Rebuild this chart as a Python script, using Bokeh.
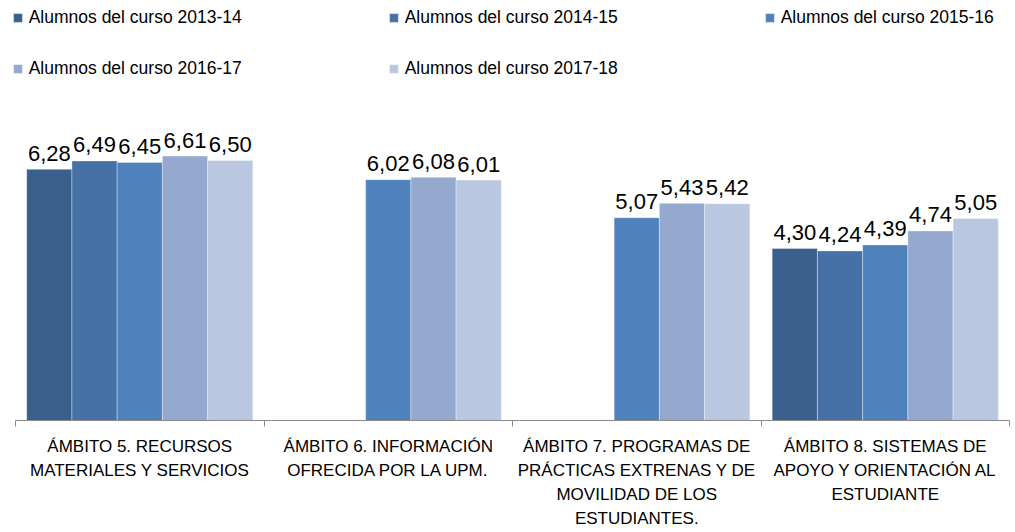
from bokeh.plotting import figure
from bokeh.models import (ColumnDataSource, Range1d, LinearAxis,
                          FixedTicker, Legend, LegendItem)
from bokeh.transform import dodge
from bokeh.core.properties import value
from bokeh.embed import file_html
from bokeh.resources import INLINE

categories = [
    "ÁMBITO 5. RECURSOS\nMATERIALES Y SERVICIOS",
    "ÁMBITO 6. INFORMACIÓN\nOFRECIDA POR LA UPM.",
    "ÁMBITO 7. PROGRAMAS DE\nPRÁCTICAS EXTRENAS Y DE\nMOVILIDAD DE LOS\nESTUDIANTES.",
    "ÁMBITO 8. SISTEMAS DE\nAPOYO Y ORIENTACIÓN AL\nESTUDIANTE",
]
series_names = [
    "Alumnos del curso 2013-14",
    "Alumnos del curso 2014-15",
    "Alumnos del curso 2015-16",
    "Alumnos del curso 2016-17",
    "Alumnos del curso 2017-18",
]
curso_2013_14 = [6.28, None, None, 4.30]
curso_2014_15 = [6.49, None, None, 4.24]
curso_2015_16 = [6.45, 6.02, 5.07, 4.39]
curso_2016_17 = [6.61, 6.08, 5.43, 4.74]
curso_2017_18 = [6.50, 6.01, 5.42, 5.05]
series_values = [curso_2013_14, curso_2014_15, curso_2015_16, curso_2016_17, curso_2017_18]
colors = ["#3B5F8D", "#4571A6", "#4F81BD", "#95A9CF", "#BAC7E1"]

FONT = "Liberation Sans"
n = len(categories)
centers = [i + 0.5 for i in range(n)]
bounds = [float(i) for i in range(n + 1)]

p = figure(width=1015, height=532, output_backend="svg", toolbar_location=None,
           x_range=Range1d(-0.0604, n + 0.0241), y_range=Range1d(0, 10.5),
           x_axis_location=None, y_axis_location=None,
           min_border_left=0, min_border_right=0, min_border_top=0, min_border_bottom=112)
p.outline_line_color = None
p.xgrid.visible = False
p.ygrid.visible = False
p.background_fill_color = "white"
p.border_fill_color = "white"

bar_w = 0.182
items = []
for j, (name, vals, col) in enumerate(zip(series_names, series_values, colors)):
    pos = [c for c, v in zip(centers, vals) if v is not None]
    vs = [v for v in vals if v is not None]
    labels = [f"{v:.2f}".replace(".", ",") for v in vs]
    src = ColumnDataSource(dict(pos=pos, val=vs, lbl=labels))
    off = (j - 2) * bar_w
    r = p.vbar(x=dodge("pos", off), top="val", width=bar_w,
               source=src, fill_color=col, line_color="white", line_alpha=0.35, line_width=1)
    p.text(x=dodge("pos", off), y="val", text="lbl", source=src,
           text_font=value(FONT), text_font_size="22px", text_color="black",
           text_align="center", text_baseline="alphabetic", y_offset=-16)
    items.append(LegendItem(label=name, renderers=[r]))

axis = LinearAxis(ticker=FixedTicker(ticks=centers, minor_ticks=bounds),
                  bounds=(0, n),
                  major_label_overrides={c: lab for c, lab in zip(centers, categories)},
                  axis_line_color="#8C8C8C", axis_line_width=1,
                  major_tick_line_color=None, major_tick_out=0, major_tick_in=0,
                  minor_tick_line_color="#8C8C8C", minor_tick_out=6, minor_tick_in=0,
                  major_label_text_font=FONT, major_label_text_font_size="17px",
                  major_label_text_color="black", major_label_text_line_height=1.27,
                  major_label_standoff=10)
p.add_layout(axis, "below")

# legend fills column by column; reorder so it reads row by row (3 per row)
legend_order = [0, 3, 1, 4, 2]
legend = Legend(items=[items[k] for k in legend_order], ncols=3, location=(11.7, 341),
                glyph_width=11, glyph_height=11, label_standoff=6,
                label_width=329, label_height=20, spacing=30, padding=0, margin=0,
                label_text_font=FONT, label_text_font_size="17.5px",
                label_text_color="black", label_text_baseline="middle",
                border_line_color=None, background_fill_alpha=0)
p.add_layout(legend, "center")

open("out.html", "w").write(file_html(p, INLINE))
